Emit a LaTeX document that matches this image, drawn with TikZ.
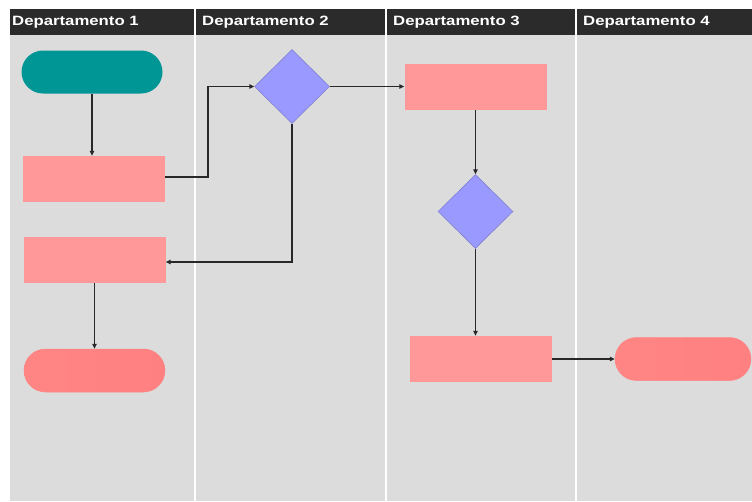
\documentclass[tikz,border=0pt]{standalone}
\usepackage{fontspec}
\setmainfont{Liberation Sans}
\usetikzlibrary{shapes.geometric,shapes.misc,arrows.meta}
\definecolor{lanegray}{RGB}{220,220,220}
\definecolor{headdark}{RGB}{43,43,43}
\definecolor{tealfill}{RGB}{0,150,150}
\definecolor{rectfill}{RGB}{255,153,153}
\definecolor{endfill}{RGB}{255,128,128}
\definecolor{decfill}{RGB}{153,153,255}
\definecolor{linecol}{RGB}{40,40,40}
\tikzset{
  lanehead/.style={anchor=west, text=white, font=\fontsize{13.5}{14}\selectfont\bfseries, inner sep=0pt},
  terminal/.style={rounded rectangle, minimum width=#1, minimum height=43pt, inner sep=0pt},
  procbox/.style={rectangle, fill=rectfill, minimum width=142pt, minimum height=46pt, inner sep=0pt},
  decision/.style={diamond, fill=decfill, draw=decfill!80!black, line width=0.5pt, minimum width=75pt, minimum height=74pt, inner sep=0pt, aspect=1},
  flow/.style={draw=linecol, line width=1.1pt, -{Triangle[length=5pt,width=4.5pt]}},
}
\begin{document}
\begin{tikzpicture}[x=1pt,y=-1pt]
  \useasboundingbox (0,0) rectangle (752,501);
  \fill[white] (0,0) rectangle (752,501);
  % swimlane body and header bar
  \fill[lanegray] (10,35) rectangle (752,501);
  \fill[headdark] (10,9) rectangle (752,35);
  % lane separators
  \foreach \x in {195,386,576} \draw[white, line width=1.6pt] (\x,9) -- (\x,501);
  % lane titles
  \node[lanehead] (h1) at (12,22) {\scalebox{1.24}[1]{Departamento 1}};
  \node[lanehead] (h2) at (202,22) {\scalebox{1.24}[1]{Departamento 2}};
  \node[lanehead] (h3) at (393,22) {\scalebox{1.24}[1]{Departamento 3}};
  \node[lanehead] (h4) at (583,22) {\scalebox{1.24}[1]{Departamento 4}};
  % flowchart shapes
  \node[terminal=141pt, fill=tealfill] (start) at (92,72) {};
  \node[procbox] (p1) at (94,179) {};
  \node[procbox] (p2) at (94.5,260) {};
  \node[terminal=141pt, left color=endfill!80!rectfill, right color=endfill, draw=endfill!70!rectfill, line width=0.5pt] (stop1) at (94.5,370.5) {};
  \node[decision] (d1) at (292,86.5) {};
  \node[procbox] (p3) at (475.5,87) {};
  \node[decision] (d2) at (475.5,211.5) {};
  \node[procbox] (p4) at (481,359) {};
  \node[terminal=136pt, left color=endfill!80!rectfill, right color=endfill, draw=endfill!70!rectfill, line width=0.5pt] (stop2) at (683,359) {};
  % connectors
  \draw[flow] (start.south) -- (p1.north -| start.south);
  \coordinate (j1) at (208,177);
  \draw[flow] (p1.east |- j1) -- (j1) |- (d1.west);
  \coordinate (j2) at (292,262);
  \draw[flow] (d1.south) -- (j2) -- (p2.east |- j2);
  \draw[flow] (p2.south) -- (stop1.north);
  \draw[flow] (d1.east) -- (p3.west |- d1.east);
  \draw[flow] (p3.south) -- (d2.north);
  \draw[flow] (d2.south) -- (p4.north -| d2.south);
  \draw[flow] (p4.east) -- (stop2.west);
\end{tikzpicture}
\end{document}
